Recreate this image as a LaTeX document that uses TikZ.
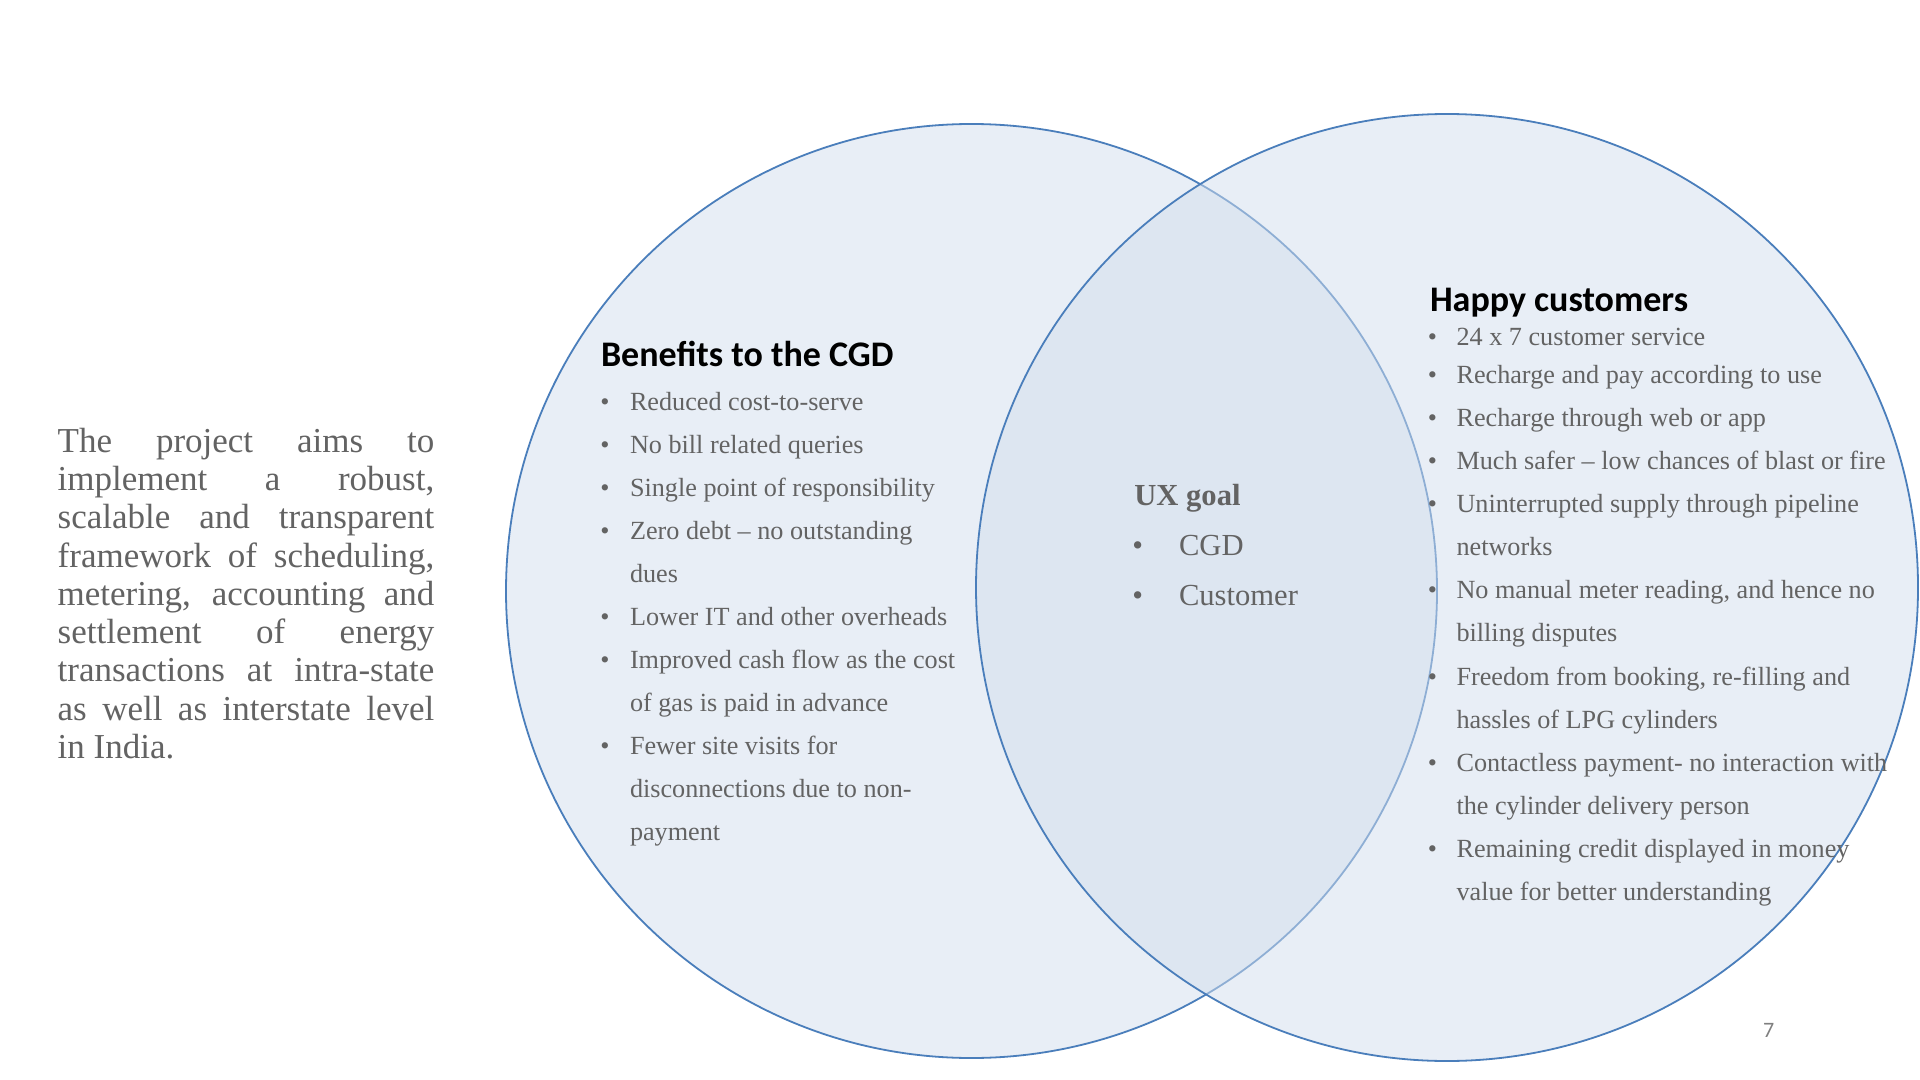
\documentclass[tikz,border=0pt]{standalone}
\usepackage{fontspec}
\setmainfont{Liberation Serif}
\newfontfamily\calib{Carlito}
\definecolor{txt}{HTML}{636363}
\definecolor{ring}{HTML}{4A7EBB}
\definecolor{vfill}{HTML}{D3DFEE}
\definecolor{pgnum}{HTML}{7F7F7F}
\begin{document}
\begin{tikzpicture}[x=0.5pt,y=-0.5pt,
  every node/.style={inner sep=0pt, outer sep=0pt},
  body/.style={anchor=base west, text=txt, font=\fontsize{13.1}{15}\selectfont},
  dot/.style={anchor=base, text=txt, font=\fontsize{13.1}{15}\selectfont},
  head/.style={anchor=base west, text=black, font=\calib\bfseries\fontsize{18}{21}\selectfont},
  para/.style={anchor=base west, text=txt, font=\fontsize{17.5}{19}\selectfont},
  ux/.style={anchor=base west, text=txt, font=\fontsize{15.3}{18}\selectfont},
  uxdot/.style={anchor=base, text=txt, font=\fontsize{15.3}{18}\selectfont},
  venn/.style={fill=vfill, fill opacity=0.5, draw=ring, line width=0.9pt}]
\fill[white] (0,0) rectangle (1920,1080);
\useasboundingbox (0,0) rectangle (1920,1080);
% Venn circles
\path[venn] (971.5,591) ellipse [x radius=232.75pt, y radius=233.5pt];
\path[venn] (1447,587.5) ellipse [x radius=235.5pt, y radius=236.75pt];
% left paragraph
\node[para] (p1) at (57.7,452.3) {\makebox[188.3pt][s]{The project aims to}};
\node[para] (p2) at (57.7,490.55) {\makebox[188.3pt][s]{implement a robust,}};
\node[para] (p3) at (57.7,528.8) {\makebox[188.3pt][s]{scalable and transparent}};
\node[para] (p4) at (57.7,567.05) {\makebox[188.3pt][s]{framework of scheduling,}};
\node[para] (p5) at (57.7,605.3) {\makebox[188.3pt][s]{metering, accounting and}};
\node[para] (p6) at (57.7,643.55) {\makebox[188.3pt][s]{settlement of energy}};
\node[para] (p7) at (57.7,681.8) {\makebox[188.3pt][s]{transactions at intra-state}};
\node[para] (p8) at (57.7,720.05) {\makebox[188.3pt][s]{as well as interstate level}};
\node[para] (p9) at (57.7,758.3) {in India.};
% left block
\node[head] (lh) at (601,366.5) {Benefits to the CGD};
\node[dot] (lb0) at (605,410.2) {•};
\node[body] (l0) at (630,410.2) {Reduced cost-to-serve};
\node[dot] (lb1) at (605,453.3) {•};
\node[body] (l1) at (630,453.3) {No bill related queries};
\node[dot] (lb2) at (605,496.3) {•};
\node[body] (l2) at (630,496.3) {Single point of responsibility};
\node[dot] (lb3) at (605,539.4) {•};
\node[body] (l3) at (630,539.4) {Zero debt – no outstanding};
\node[body] (l4) at (630,582.4) {dues};
\node[dot] (lb5) at (605,625.5) {•};
\node[body] (l5) at (630,625.5) {Lower IT and other overheads};
\node[dot] (lb6) at (605,668.5) {•};
\node[body] (l6) at (630,668.5) {Improved cash flow as the cost};
\node[body] (l7) at (630,711.6) {of gas is paid in advance};
\node[dot] (lb8) at (605,754.6) {•};
\node[body] (l8) at (630,754.6) {Fewer site visits for};
\node[body] (l9) at (630,797.7) {disconnections due to non-};
\node[body] (l10) at (630,840.7) {payment};
% middle block
\node[ux, font=\bfseries\fontsize{15.3}{18}\selectfont] (uxh) at (1134.3,505) {UX goal};
\node[uxdot] (ub1) at (1137.7,555) {•};
\node[ux] (u1) at (1179,555) {CGD};
\node[uxdot] (ub2) at (1137.7,605) {•};
\node[ux] (u2) at (1179,605) {Customer};
% right block
\node[head] (rh) at (1430,311.5) {Happy customers};
\node[dot] (rb0) at (1432.5,345) {•};
\node[body] (r0) at (1456.5,345) {24 x 7 customer service};
\node[dot] (rb1) at (1432.5,383.3) {•};
\node[body] (r1) at (1456.5,383.3) {Recharge and pay according to use};
\node[dot] (rb2) at (1432.5,426.4) {•};
\node[body] (r2) at (1456.5,426.4) {Recharge through web or app};
\node[dot] (rb3) at (1432.5,469.5) {•};
\node[body] (r3) at (1456.5,469.5) {Much safer – low chances of blast or fire};
\node[dot] (rb4) at (1432.5,512.6) {•};
\node[body] (r4) at (1456.5,512.6) {Uninterrupted supply through pipeline};
\node[body] (r5) at (1456.5,555.7) {networks};
\node[dot] (rb6) at (1432.5,598.8) {•};
\node[body] (r6) at (1456.5,598.8) {No manual meter reading, and hence no};
\node[body] (r7) at (1456.5,641.9) {billing disputes};
\node[dot] (rb8) at (1432.5,685) {•};
\node[body] (r8) at (1456.5,685) {Freedom from booking, re-filling and};
\node[body] (r9) at (1456.5,728.1) {hassles of LPG cylinders};
\node[dot] (rb10) at (1432.5,771.2) {•};
\node[body] (r10) at (1456.5,771.2) {Contactless payment- no interaction with};
\node[body] (r11) at (1456.5,814.3) {the cylinder delivery person};
\node[dot] (rb12) at (1432.5,857.4) {•};
\node[body] (r12) at (1456.5,857.4) {Remaining credit displayed in money};
\node[body] (r13) at (1456.5,900.5) {value for better understanding};
% page number
\node[anchor=base west, text=pgnum, font=\calib\fontsize{11}{13}\selectfont] (pg) at (1763,1037) {7};
\end{tikzpicture}
\end{document}
